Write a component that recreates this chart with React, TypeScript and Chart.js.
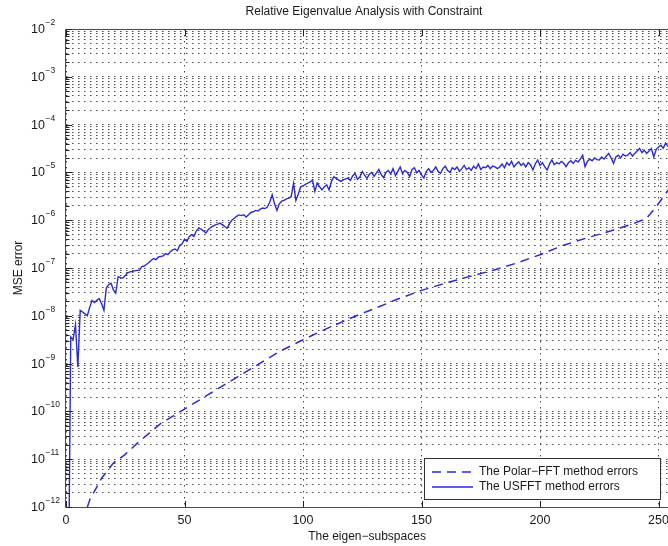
import React, { useEffect, useRef } from 'react';
import { Chart, registerables } from 'chart.js';

Chart.register(...registerables);

// ---------------- data ----------------
const TITLE = 'Relative Eigenvalue Analysis with Constraint';
const X_TITLE = 'The eigen\u2212subspaces';
const Y_TITLE = 'MSE error';
const LEGEND_LABELS = ['The Polar\u2212FFT method errors', 'The USFFT method errors'];

const X_MIN = 0;
const X_MAX = 254;
const X_TICKS = [0, 50, 100, 150, 200, 250];
const Y_EXPONENTS = [-12, -11, -10, -9, -8, -7, -6, -5, -4, -3, -2];
const Y_MANTISSAS = [1, 2, 3, 4, 5, 6, 7, 8, 9];

// USFFT method errors, eigen-subspace 1..256
const usfftValues = [
  1e-14, 3.6e-9, 3.2e-9, 6.5e-9, 8.5e-10, 1.3e-8, 1.2e-8, 1.1e-8, 1.0e-8, 1.5e-8,
  2.1e-8, 1.9e-8, 2.1e-8, 2.3e-8, 1.8e-8, 1.3e-8, 3.8e-8, 4.5e-8, 4.8e-8, 3.5e-8,
  3.0e-8, 6.6e-8, 6.3e-8, 6.2e-8, 7.0e-8, 7.9e-8, 8.3e-8, 8.5e-8, 8.7e-8, 8.9e-8,
  9.0e-8, 1.07e-7, 1.1e-7, 1.2e-7, 1.3e-7, 1.45e-7, 1.58e-7, 1.5e-7, 1.7e-7, 1.74e-7,
  1.8e-7, 2.0e-7, 1.9e-7, 2.2e-7, 2.4e-7, 2.5e-7, 2.3e-7, 3.0e-7, 3.2e-7, 4.0e-7,
  3.6e-7, 4.5e-7, 5.0e-7, 4.6e-7, 6.0e-7, 6.8e-7, 6.5e-7, 6.0e-7, 5.4e-7, 6.3e-7,
  7.0e-7, 7.5e-7, 8.0e-7, 8.3e-7, 8.7e-7, 8.0e-7, 7.4e-7, 6.8e-7, 8.5e-7, 1.0e-6,
  1.1e-6, 1.2e-6, 1.29e-6, 1.25e-6, 1.3e-6, 1.17e-6, 1.3e-6, 1.45e-6, 1.5e-6, 1.6e-6,
  1.55e-6, 1.7e-6, 1.8e-6, 1.75e-6, 1.9e-6, 2.4e-6, 3.4e-6, 2.2e-6, 1.6e-6, 2.2e-6,
  2.5e-6, 2.6e-6, 2.8e-6, 2.9e-6, 3.1e-6, 5.9e-6, 2.6e-6, 3.5e-6, 5.0e-6, 5.2e-6,
  5.6e-6, 6.0e-6, 6.3e-6, 6.9e-6, 4.0e-6, 6.0e-6, 5.0e-6, 4.3e-6, 5.0e-6, 5.5e-6,
  4.3e-6, 6.5e-6, 8.1e-6, 7.5e-6, 6.9e-6, 6.5e-6, 7.0e-6, 7.3e-6, 7.6e-6, 6.8e-6,
  8.5e-6, 9.5e-6, 7.2e-6, 8.0e-6, 1.05e-5, 8.8e-6, 7.5e-6, 9.2e-6, 1.0e-5, 8.3e-6,
  9.8e-6, 1.15e-5, 9.0e-6, 7.8e-6, 1.0e-5, 1.1e-5, 9.3e-6, 1.2e-5, 8.6e-6, 1.05e-5,
  1.3e-5, 9.5e-6, 1.1e-5, 1.0e-5, 8.2e-6, 1.15e-5, 1.25e-5, 9.8e-6, 1.1e-5, 8.9e-6,
  7.6e-6, 1.05e-5, 1.2e-5, 1.0e-5, 1.1e-5, 1.3e-5, 1.05e-5, 9.5e-6, 1.2e-5, 1.35e-5,
  1.1e-5, 1.0e-5, 1.25e-5, 1.15e-5, 1.3e-5, 1.05e-5, 1.2e-5, 1.4e-5, 1.15e-5, 1.25e-5,
  1.1e-5, 1.35e-5, 1.2e-5, 1.5e-5, 1.15e-5, 1.3e-5, 1.25e-5, 1.4e-5, 1.2e-5, 1.35e-5,
  1.3e-5, 1.2e-5, 1.3e-5, 1.5e-5, 1.25e-5, 1.6e-5, 1.4e-5, 1.7e-5, 1.3e-5, 1.5e-5,
  1.66e-5, 1.4e-5, 1.55e-5, 1.3e-5, 1.6e-5, 1.45e-5, 1.12e-5, 1.5e-5, 1.82e-5, 1.4e-5,
  1.6e-5, 1.3e-5, 1.12e-5, 1.5e-5, 1.82e-5, 1.45e-5, 1.6e-5, 1.5e-5, 1.7e-5, 1.55e-5,
  1.32e-5, 1.6e-5, 1.75e-5, 1.55e-5, 1.8e-5, 1.65e-5, 1.9e-5, 2.3e-5, 1.32e-5, 1.7e-5,
  1.9e-5, 1.75e-5, 2.0e-5, 1.85e-5, 1.82e-5, 2.1e-5, 1.9e-5, 2.2e-5, 2.5e-5, 2.0e-5,
  1.55e-5, 2.1e-5, 2.3e-5, 2.0e-5, 2.4e-5, 2.2e-5, 2.3e-5, 2.6e-5, 2.2e-5, 2.5e-5,
  2.8e-5, 3.16e-5, 2.6e-5, 2.9e-5, 2.5e-5, 2.8e-5, 3.16e-5, 2.1e-5, 3.0e-5, 3.4e-5,
  3.7e-5, 3.2e-5, 4.1e-5, 3.5e-5, 4.3e-5, 3.9e-5,
];

// Polar-FFT method errors (smooth curve)
const polarX = [7, 10, 15, 20, 25, 30, 35, 40, 50, 60, 70, 80, 90, 100, 110, 120, 130, 140, 150, 160, 170, 180, 190, 200, 210, 220, 230, 240, 245, 249, 253, 256];
const polarY = [
  5e-13, 1.4e-12, 4.0e-12, 8.3e-12, 1.26e-11, 2.14e-11, 3.47e-11, 5.6e-11, 1.12e-10, 2.24e-10,
  4.47e-10, 8.9e-10, 1.78e-9, 3.16e-9, 5.4e-9, 8.9e-9, 1.41e-8, 2.24e-8, 3.4e-8, 4.8e-8,
  6.6e-8, 8.9e-8, 1.26e-7, 1.9e-7, 3.0e-7, 4.3e-7, 6.0e-7, 8.7e-7, 1.1e-6, 1.9e-6,
  3.6e-6, 5.6e-6,
];

// ---------------- styles ----------------
const FONT = '"Liberation Sans", Arial, Helvetica, sans-serif';
const BLUE = '#2b2bd8';
const TEXT = '#1a1a1a';
const AXIS = '#4a4a4a';
const GRID = 'rgba(55,55,55,0.9)';
const DASH = [9, 6];

const yGridValues: number[] = [];
Y_EXPONENTS.forEach((e, i) => {
  if (i === Y_EXPONENTS.length - 1) {
    yGridValues.push(Number(`1e${e}`));
  } else {
    Y_MANTISSAS.forEach((m) => yGridValues.push(Number(`${m}e${e}`)));
  }
});

const overlayPlugin = {
  id: 'overlay',
  afterDraw(chart: any) {
    const { ctx, chartArea: ca, scales } = chart;
    const xs = scales.x;
    const ys = scales.y;
    ctx.save();
    ctx.setLineDash([]);

    // axes box (left, top, bottom)
    ctx.strokeStyle = AXIS;
    ctx.lineWidth = 1;
    ctx.beginPath();
    ctx.moveTo(ca.right + 2, ca.top + 0.5);
    ctx.lineTo(ca.left - 0.5, ca.top + 0.5);
    ctx.lineTo(ca.left - 0.5, ca.bottom + 0.5);
    ctx.lineTo(ca.right + 2, ca.bottom + 0.5);
    ctx.stroke();

    // inward ticks on y axis
    ctx.strokeStyle = '#222';
    ctx.beginPath();
    yGridValues.forEach((v) => {
      const y = Math.round(ys.getPixelForValue(v)) + 0.5;
      const isMajor = Math.abs(Math.log10(v) - Math.round(Math.log10(v))) < 1e-6;
      const len = isMajor ? 6 : 3.5;
      ctx.moveTo(ca.left, y);
      ctx.lineTo(ca.left + len, y);
    });
    // inward ticks on x axis (bottom & top)
    X_TICKS.forEach((v) => {
      const x = Math.round(xs.getPixelForValue(v)) + 0.5;
      ctx.moveTo(x, ca.bottom);
      ctx.lineTo(x, ca.bottom - 6);
      ctx.moveTo(x, ca.top + 1);
      ctx.lineTo(x, ca.top + 7);
    });
    ctx.stroke();

    ctx.fillStyle = TEXT;

    // y tick labels 10^e
    Y_EXPONENTS.forEach((e) => {
      const y = ys.getPixelForValue(Number(`1e${e}`));
      ctx.font = `12.5px ${FONT}`;
      ctx.textAlign = 'left';
      ctx.textBaseline = 'middle';
      ctx.fillText('10', 31, y + 0.5);
      ctx.font = `8.5px ${FONT}`;
      ctx.textBaseline = 'alphabetic';
      ctx.fillText(`\u2212${Math.abs(e)}`, 45.5, y - 4);
    });

    // x tick labels
    ctx.font = `12.5px ${FONT}`;
    ctx.textAlign = 'center';
    ctx.textBaseline = 'middle';
    X_TICKS.forEach((v) => {
      ctx.fillText(String(v), xs.getPixelForValue(v), 521);
    });

    // x title
    ctx.font = `12px ${FONT}`;
    ctx.fillText(X_TITLE, (ca.left + ca.right) / 2, 537);

    // title
    ctx.fillText(TITLE, 364, 12);

    // y title
    ctx.save();
    ctx.translate(22, (ca.top + ca.bottom) / 2);
    ctx.rotate(-Math.PI / 2);
    ctx.textAlign = 'center';
    ctx.textBaseline = 'alphabetic';
    ctx.fillText(Y_TITLE, 0, 0);
    ctx.restore();

    // legend
    const lx = 424.5, ly = 458.5, lw = 236, lh = 41;
    ctx.fillStyle = '#ffffff';
    ctx.fillRect(lx, ly, lw, lh);
    ctx.strokeStyle = '#333';
    ctx.lineWidth = 1;
    ctx.strokeRect(lx, ly, lw, lh);
    const rows = [472, 487];
    ctx.strokeStyle = BLUE;
    ctx.lineWidth = 1.5;
    ctx.setLineDash(DASH);
    ctx.beginPath();
    ctx.moveTo(432, rows[0]);
    ctx.lineTo(473, rows[0]);
    ctx.stroke();
    ctx.setLineDash([]);
    ctx.beginPath();
    ctx.moveTo(432, rows[1]);
    ctx.lineTo(473, rows[1]);
    ctx.stroke();
    ctx.fillStyle = TEXT;
    ctx.font = `12px ${FONT}`;
    ctx.textAlign = 'left';
    ctx.textBaseline = 'middle';
    ctx.fillText(LEGEND_LABELS[0], 479, rows[0]);
    ctx.fillText(LEGEND_LABELS[1], 479, rows[1]);

    ctx.restore();
  },
};

export default function App() {
  const canvasRef = useRef<HTMLCanvasElement | null>(null);

  useEffect(() => {
    const canvas = canvasRef.current;
    if (!canvas) return;
    const chart = new Chart(canvas, {
      type: 'line',
      data: {
        datasets: [
          {
            label: LEGEND_LABELS[0],
            data: polarX.map((x, i) => ({ x, y: polarY[i] })),
            borderColor: BLUE,
            borderWidth: 1.5,
            borderDash: DASH,
            pointRadius: 0,
            tension: 0,
            fill: false,
          },
          {
            label: LEGEND_LABELS[1],
            data: usfftValues.map((y, i) => ({ x: i + 1, y })),
            borderColor: BLUE,
            borderWidth: 1.4,
            pointRadius: 0,
            tension: 0,
            fill: false,
          },
        ],
      },
      options: {
        animation: false,
        responsive: false,
        devicePixelRatio: 1,
        events: [],
        layout: { padding: { top: 29, left: 0, right: 0, bottom: 0 } },
        plugins: {
          legend: { display: false },
          title: { display: false },
          tooltip: { enabled: false },
        },
        scales: {
          x: {
            type: 'linear',
            min: X_MIN,
            max: X_MAX,
            ticks: { display: false },
            grid: { display: true, color: GRID, lineWidth: 1, drawTicks: false },
            border: { display: false, dash: [1.5, 4.5] },
            afterBuildTicks: (scale: any) => {
              scale.ticks = X_TICKS.map((v) => ({ value: v }));
            },
            afterFit: (scale: any) => {
              scale.height = 39;
              scale.paddingLeft = 0;
              scale.paddingRight = 0;
            },
          },
          y: {
            type: 'logarithmic',
            min: 1e-12,
            max: 1e-2,
            ticks: { display: false, autoSkip: false },
            grid: { display: true, color: GRID, lineWidth: 1, drawTicks: false },
            border: { display: false, dash: [1.5, 4.5] },
            afterBuildTicks: (scale: any) => {
              scale.ticks = yGridValues.map((v) => ({ value: v }));
            },
            afterFit: (scale: any) => {
              scale.width = 66;
              scale.paddingTop = 0;
              scale.paddingBottom = 0;
            },
          },
        },
      },
      plugins: [overlayPlugin],
    });
    return () => chart.destroy();
  }, []);

  return (
    <div style={{ position: 'fixed', left: 0, top: 0, width: 668, height: 546, background: '#fff' }}>
      <canvas ref={canvasRef} width={668} height={546} style={{ display: 'block', width: 668, height: 546 }} />
    </div>
  );
}
